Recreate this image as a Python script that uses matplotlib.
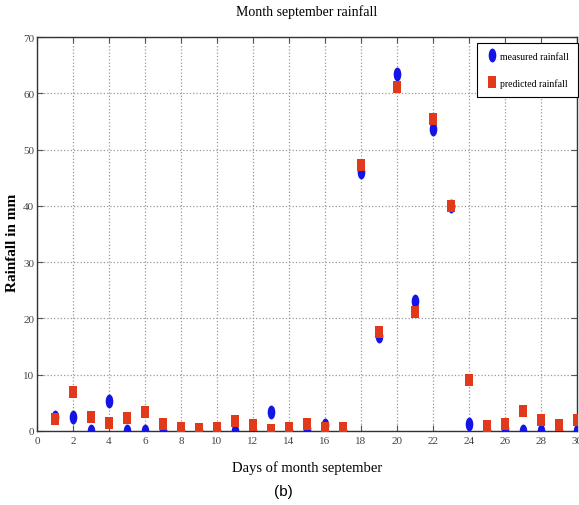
import matplotlib
matplotlib.use("Agg")
import matplotlib.pyplot as plt
from matplotlib.path import Path
from matplotlib.transforms import Affine2D

days = list(range(1, 31))
measured = [2.5, 2.5, 0.0, 5.3, 0.0, 0.0, 0.0, 0.0, 0.0, 0.0,
            0.0, 0.0, 3.3, 0.0, 0.3, 1.0, 0.0, 46.0, 16.8, 63.5,
            23.1, 53.6, 40.0, 1.2, 0.0, 0.3, 0.0, 0.0, 0.0, 0.0]
predicted = [2.2, 7.0, 2.5, 1.5, 2.3, 3.3, 1.2, 0.5, 0.3, 0.5,
             1.8, 1.0, 0.2, 0.5, 1.2, 0.5, 0.5, 47.2, 17.6, 61.2,
             21.1, 55.5, 40.0, 9.0, 0.8, 1.2, 3.5, 2.0, 1.0, 2.0]
xticks = list(range(0, 31, 2))
yticks = list(range(0, 71, 10))

serif = "Liberation Serif"

fig = plt.figure(figsize=(5.79, 5.06), dpi=100)
ax = fig.add_axes([37/579, 1-432/506, 540/579, 394/506])

ellipse = Path.unit_circle().transformed(Affine2D().scale(0.55, 1.0))
rect = Path([(-0.38, -0.5), (0.38, -0.5), (0.38, 0.5), (-0.38, 0.5), (-0.38, -0.5)],
            [Path.MOVETO, Path.LINETO, Path.LINETO, Path.LINETO, Path.CLOSEPOLY])

ax.plot(days, measured, linestyle="none", marker=ellipse, markersize=10,
        color="#1414e6", markeredgewidth=0, label="measured rainfall", zorder=3)
ax.plot(days, predicted, linestyle="none", marker=rect, markersize=8.5,
        color="#e0391c", markeredgewidth=0, label="predicted rainfall", zorder=4)

ax.set_xlim(0, 30)
ax.set_ylim(0, 70)
ax.set_xticks(xticks)
ax.set_yticks(yticks)
ax.grid(True, linestyle=":", color="#9a9a9a", linewidth=0.9)
ax.tick_params(direction="in", length=4, top=True, right=True,
               labelsize=8, colors="#555555", labelcolor="#444444")
ax.tick_params(axis="y", pad=2)
for lab in ax.get_xticklabels() + ax.get_yticklabels():
    lab.set_family(serif)
for s in ax.spines.values():
    s.set_color("#333333")
    s.set_linewidth(1.0)

ax.set_title("Month september rainfall", family=serif, fontsize=10, pad=16)
ax.set_xlabel("Days of month september", family=serif, fontsize=10.5, labelpad=11)
ax.set_ylabel("Rainfall in mm", family=serif, fontsize=11, fontweight="bold", va="center")
ax.yaxis.set_label_coords(-0.045, 0.48)

leg = ax.legend(loc="upper right", bbox_to_anchor=(1.002, 0.985), frameon=True,
                fancybox=False, edgecolor="black", framealpha=1, borderaxespad=0,
                prop={"family": serif, "size": 7}, labelspacing=1.8,
                handletextpad=0.3, handlelength=1.2, borderpad=0.9)
leg.get_frame().set_linewidth(0.8)

fig.text(283/579, 1-492/506, "(b)", family="Liberation Sans", fontsize=11,
         ha="center", va="center")

fig.savefig("out.png", dpi=100)
